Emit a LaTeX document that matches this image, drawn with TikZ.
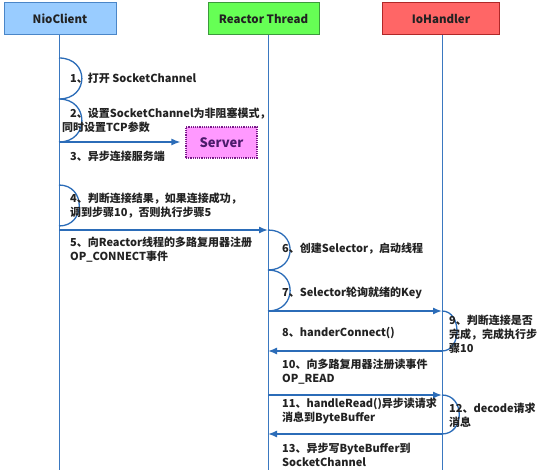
\documentclass[tikz,border=0pt]{standalone}
\usepackage{fontspec}
\setmainfont{Noto Sans CJK SC}
\usetikzlibrary{arrows.meta}
\definecolor{linec}{HTML}{2B6CB8}
\definecolor{lifec}{HTML}{3A78C0}
\definecolor{textc}{HTML}{222222}
\definecolor{nioFill}{HTML}{99CCFF}
\definecolor{nioBorder}{HTML}{4A86C8}
\definecolor{reaFill}{HTML}{66FF55}
\definecolor{reaBorder}{HTML}{3C9A3C}
\definecolor{ioFill}{HTML}{FF6666}
\definecolor{ioBorder}{HTML}{B02828}
\definecolor{srvFill}{HTML}{FF99FF}
\definecolor{srvBorder}{HTML}{7A1A8A}
\definecolor{srvText}{HTML}{4B1B6B}
\begin{document}
\begin{tikzpicture}[x=1pt,y=-1pt,
  hdr/.style={draw, line width=1pt, minimum height=32pt, inner sep=0pt,
    font=\fontsize{11.5}{14}\selectfont\bfseries, text=textc},
  life/.style={draw=lifec, line width=1pt},
  selfcall/.style={draw=linec, line width=1.3pt},
  msg/.style={draw=linec, line width=1.4pt, -{Latex[length=9pt,width=7pt]}},
  txt/.style={anchor=west, align=left, inner sep=0pt,
    font=\fontsize{11}{14}\selectfont\bfseries, text=textc}]
\useasboundingbox[fill=white] (0,0) rectangle (542,470);

% header boxes
\node[hdr, fill=nioFill, draw=nioBorder, minimum width=112pt] (nio) at (60,19) {NioClient};
\node[hdr, fill=reaFill, draw=reaBorder, minimum width=111pt] (rea) at (263.5,19) {Reactor Thread};
\node[hdr, fill=ioFill, draw=ioBorder, minimum width=117pt] (io) at (441,19) {IoHandler};

% lifeline ends
\coordinate (nioEnd) at (59,470);
\coordinate (reaEnd) at (268,470);
\coordinate (ioEnd) at (442,470);
\draw[life] (nio.south -| nioEnd) -- (nioEnd);
\draw[life] (rea.south -| reaEnd) -- (reaEnd);
\draw[life] (io.south -| ioEnd) -- (ioEnd);

% server
\node[draw=srvBorder, fill=srvFill, densely dotted, line width=1.2pt,
  minimum width=71pt, minimum height=31pt, inner sep=0pt,
  font=\fontsize{13}{15}\selectfont\bfseries, text=srvText] (srv) at (221.5,142.5) {Server};

% points on lifelines
\coordinate (a1) at (59,58);
\coordinate (a2) at (59,99);
\coordinate (a3) at (59,142);
\coordinate (a4) at (59,185);
\coordinate (a5) at (59,226);
\coordinate (a6) at (59,230);
\coordinate (r1) at (268,230);
\coordinate (r2) at (268,270);
\coordinate (r3) at (268,311);
\coordinate (r4) at (268,351);
\coordinate (r5) at (268,395);
\coordinate (r6) at (268,434);
\coordinate (i1) at (442,311);
\coordinate (i2) at (442,351);
\coordinate (i3) at (442,395);
\coordinate (i4) at (442,434);

% self calls
\draw[selfcall] (a1) .. controls +(30.5,0) and +(30.5,0) .. (a2);
\draw[selfcall] (a2) .. controls +(30.5,0) and +(30.5,0) .. (a3);
\draw[selfcall] (a4) .. controls +(27,0) and +(27,0) .. (a5);
\draw[selfcall] (r1) .. controls +(29.5,0) and +(29.5,0) .. (r2);
\draw[selfcall] (r2) .. controls +(29.5,0) and +(29.5,0) .. (r3);
\draw[selfcall] (i1) .. controls +(20,0) and +(20,0) .. (i2);
\draw[selfcall] (i3) .. controls +(23,0) and +(23,0) .. (i4);

% messages
\draw[msg, shorten >=5pt] (a3) -- (a3 -| srv.west);
\draw[msg] (a6) -- (r1);
\draw[msg] (r3) -- (i1);
\draw[msg] (i2) -- (r4);
\draw[msg] (r5) -- (i3);
\draw[msg] (i4) -- (r6);

% labels
\node[txt] (t1) at (70,78) {1、打开 SocketChannel};
\node[txt] (t2) at (62,120) {\hspace*{8pt}2、设置SocketChannel为非阻塞模式，\\同时设置TCP参数};
\node[txt] (t3) at (70,156) {3、异步连接服务端};
\node[txt] (t4) at (70,206) {4、判断连接结果，如果连接成功，\\调到步骤10，否则执行步骤5};
\node[txt] (t5) at (70,250) {5、向Reactor线程的多路复用器注册\\OP\_CONNECT事件};
\node[txt] (t6) at (282,249) {6、创建Selector，启动线程};
\node[txt] (t7) at (282,293) {7、Selector轮询就绪的Key};
\node[txt] (t8) at (282,333) {8、handerConnect()};
\node[txt] (t9) at (449,334) {9、判断连接是否\\完成，完成执行步\\骤10};
\node[txt] (t10) at (282,371.5) {10、向多路复用器注册读事件\\OP\_READ};
\node[txt] (t11) at (282,411) {11、handleRead()异步读请求\\消息到ByteBuffer};
\node[txt] (t12) at (449,415) {12、decode请求\\消息};
\node[txt] (t13) at (282,455) {13、异步写ByteBuffer到\\SocketChannel};
\end{tikzpicture}
\end{document}
